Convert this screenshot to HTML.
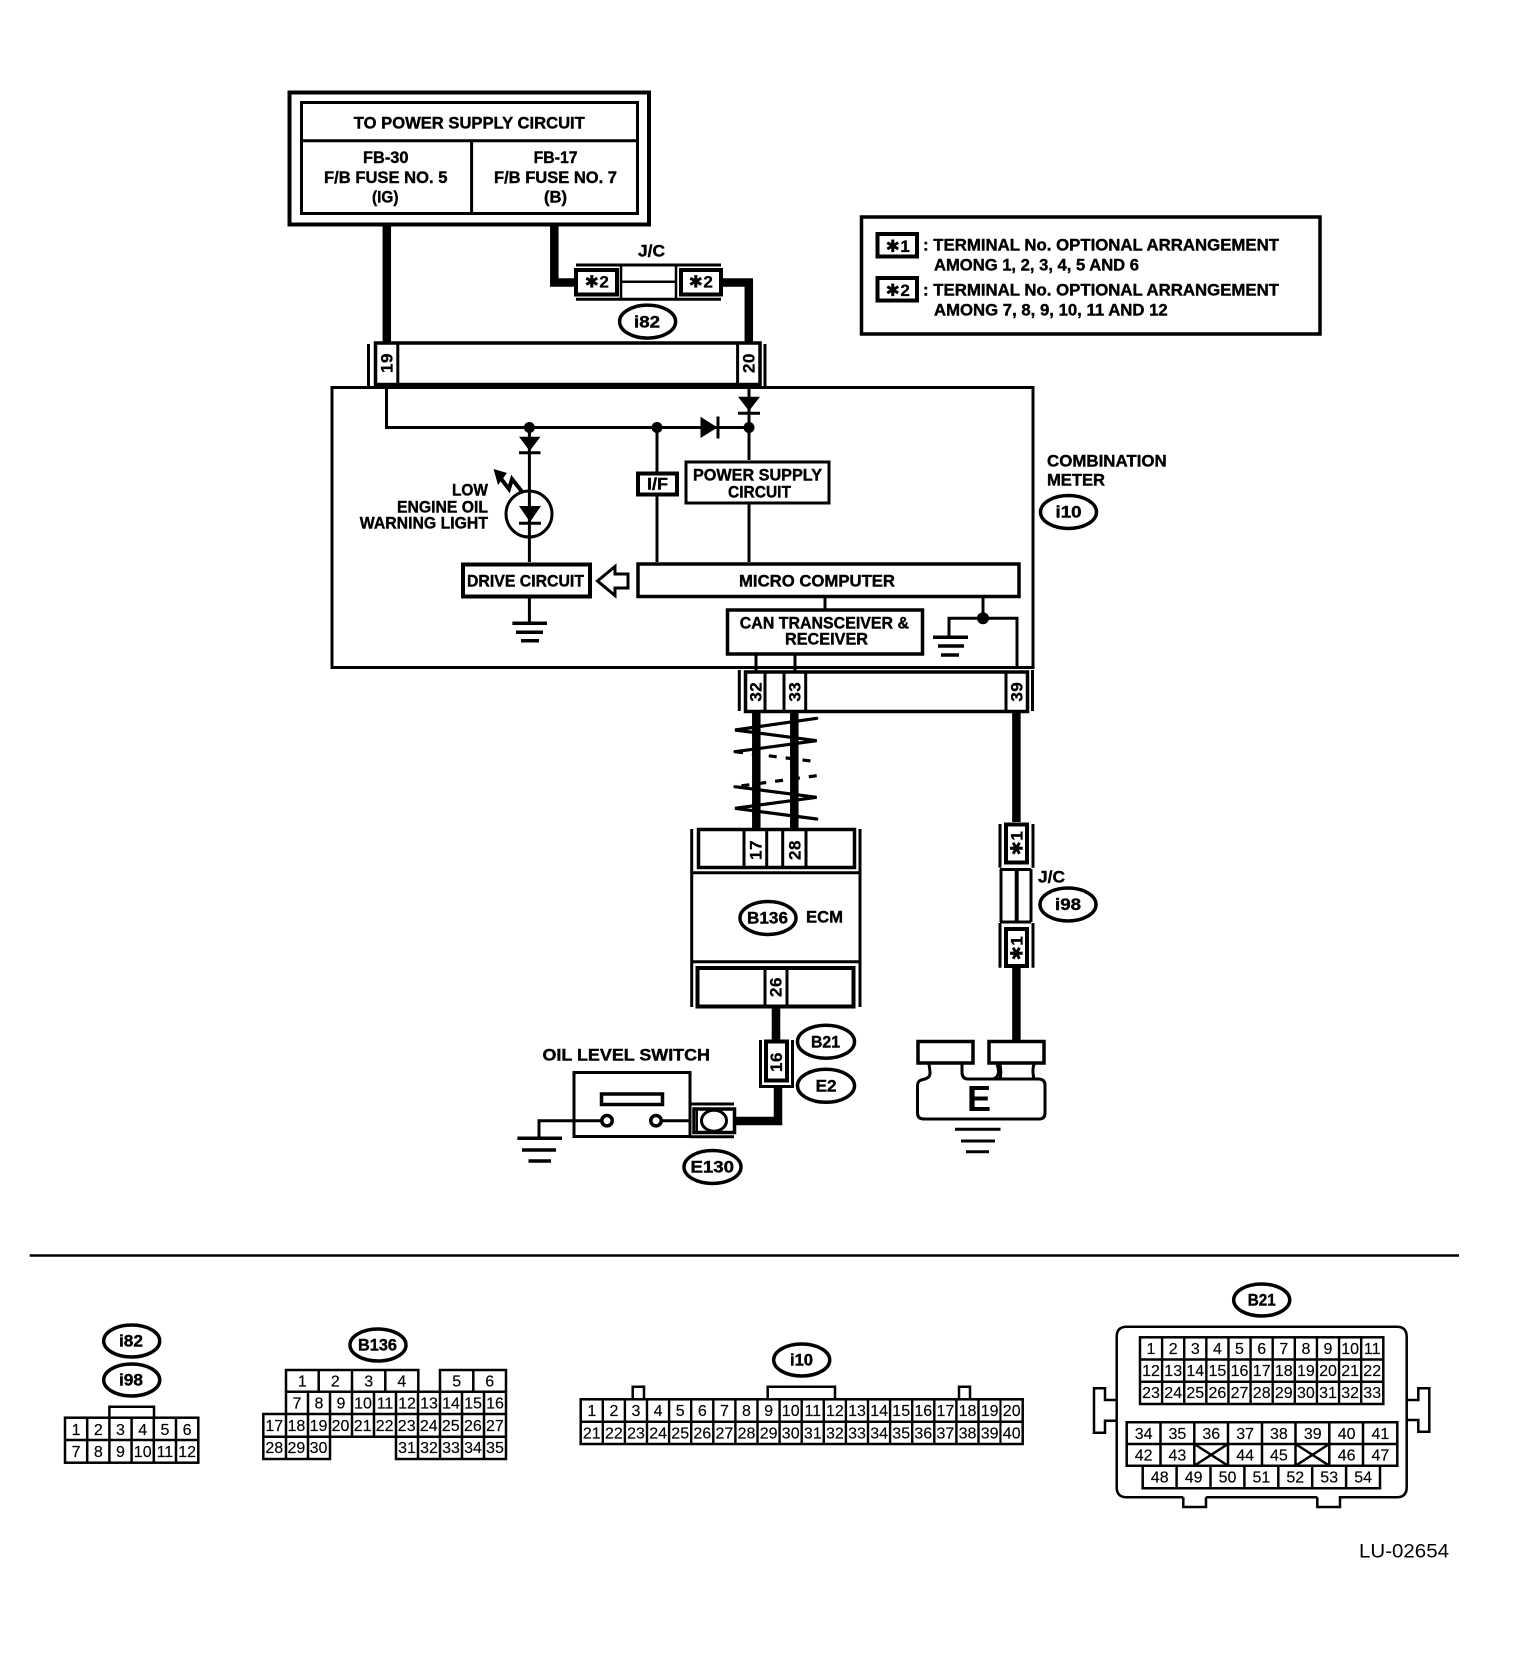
<!DOCTYPE html>
<html><head><meta charset="utf-8">
<style>
html,body{margin:0;padding:0;background:#fff}
svg{display:block}
text{font-family:"Liberation Sans",sans-serif;fill:#000;stroke:none}
.b{font-weight:bold;font-size:16.5px;stroke:#000;stroke-width:.4}
.r{font-size:16px;text-anchor:middle;stroke:#000;stroke-width:.15}
.n{font-weight:bold;font-size:17px;text-anchor:middle;stroke:#000;stroke-width:.3;letter-spacing:.5px}
.s{font-family:"DejaVu Sans","Liberation Sans",sans-serif}
</style></head><body>
<svg xmlns="http://www.w3.org/2000/svg" width="1520" height="1668" viewBox="0 0 1520 1668">
<rect width="1520" height="1668" fill="#fff"/>
<g fill="none" stroke="#000" stroke-width="3">
<!-- power box -->
<rect x="289.5" y="92.5" width="359.5" height="132" stroke-width="4"/>
<rect x="301.5" y="102.5" width="336" height="111"/>
<path d="M301 140.7H638M471.6 141V213"/>
<!-- wires top -->
<path d="M386.8 226V342M554.3 226V282.5H575M722 282.5H748.8V342" stroke-width="8.5"/>
<!-- i82 jc -->
<path d="M576 265H721M576 299.3H721" stroke-width="3"/>
<rect x="576" y="270" width="41" height="24.5" stroke-width="4"/>
<rect x="681" y="270" width="40" height="24.5" stroke-width="4"/>
<path d="M621 266V299M676 266V299M621 281.7H676" stroke-width="2.5"/>
<ellipse cx="647.6" cy="321.6" rx="28" ry="16.5" stroke-width="3.5"/>
<!-- connector 19-20 -->
<rect x="375.5" y="343" width="384.5" height="41.5" stroke-width="3.5"/>
<path d="M368.5 344V387M765 344V387M397.8 343V385M737.6 343V385"/>
<!-- meter box -->
<rect x="332" y="387.5" width="701" height="280"/>
<!-- inner wiring -->
<path d="M386.5 387V427.5H749M529.4 427.5V562M657 427.5V562M749 387V460M749 504V562M825 598V609M983 598V618.3M949 636V618.3H1017V668M529.4 598V623M756 655V672M795 655V672"/>
<!-- diodes -->
<g fill="#000" stroke="none">
<polygon points="519,436.7 540.5,436.7 529.7,451"/>
<polygon points="738,396.7 760,396.7 749,411"/>
<polygon points="700.5,416.7 717.5,427.5 700.5,438"/>
<polygon points="519,506 541,506 530,522"/>
<circle cx="529.4" cy="427.5" r="5.5"/><circle cx="657" cy="427.5" r="5.5"/><circle cx="749" cy="427.5" r="5.5"/><circle cx="983" cy="618.3" r="6"/>
<polygon points="493.5,469 507,473 498,485"/>
</g>
<path d="M519 452.7H540.5M738 413.3H760M718 416.5V438.5M519 523.3H541"/>
<circle cx="529" cy="514" r="23"/>
<path d="M499 476L509 489L512 479L523 493" stroke-width="4"/>
<!-- boxes -->
<rect x="638" y="473.5" width="39" height="21" fill="#fff" stroke-width="4"/>
<rect x="686" y="462" width="143" height="41" fill="#fff"/>
<rect x="463" y="564.5" width="127" height="32" fill="#fff" stroke-width="4"/>
<rect x="638" y="564" width="381" height="32.5" fill="#fff" stroke-width="3.5"/>
<rect x="727.5" y="610" width="195" height="44" fill="#fff" stroke-width="3.5"/>
<polygon points="597.5,581 615,566.5 615,574 628,574 628,588 615,588 615,595.5" fill="#fff" stroke-width="3"/>
<!-- grounds -->
<path d="M512.4 623.3H547M516 632.3H543M521 640.7H539M933 637.3H968M938 646H964M941 655H959" stroke-width="3.5"/>
<!-- connector 32-39 -->
<rect x="745.5" y="672" width="282" height="39.5" stroke-width="3.5"/>
<path d="M739.3 670V711M1032.5 670V711M765 672V711M784 672V711M805.7 672V711M1006 672V711"/>
<!-- wires to ecm -->
<path d="M756.3 712V828M794.3 712V828M1016.4 712V822M1016.4 968V1040M776 1008V1040M778 1086V1121H735" stroke-width="8.5"/>
<!-- twist -->
<path d="M816.7 718.3L735 730L816.7 740.7L735 751.7M735 786.7L816.7 797.3L735 808.3L816.7 819" stroke-width="3.2" stroke-linecap="round"/>
<path d="M735 751.7L816.7 761.7M816.7 775.7L735 786.7" stroke-width="3.2" stroke-dasharray="8 9"/>
<!-- ECM -->
<path d="M691.7 829V1007M860 829V1007M691.7 872.7H860M691.7 961.7H860"/>
<rect x="698.5" y="829.5" width="156" height="38" stroke-width="3.5"/>
<path d="M744 829V868M766.7 829V868M782.7 829V868M806 829V868M765 967V1007M787 967V1007"/>
<rect x="697.5" y="968" width="156" height="38.5" stroke-width="4"/>
<ellipse cx="768" cy="918" rx="28" ry="16.5" stroke-width="3.5"/>
<!-- i98 jc -->
<rect x="1006" y="824.5" width="21" height="38" stroke-width="4"/>
<rect x="1006" y="929" width="21" height="37" stroke-width="4"/>
<path d="M1000 824V867.7M1033 824V867.7M1000 923V967.7M1033 923V967.7M1000 869.5H1031M1000 922H1031M1001 869V922M1031 869V922"/>
<path d="M1016.7 869V922" stroke-width="4"/>
<ellipse cx="1068" cy="904.500" rx="28" ry="16.5" stroke-width="3.5"/>
<ellipse cx="1068.500" cy="512" rx="28" ry="16.5" stroke-width="3.5"/>
<!-- connector 16 -->
<rect x="766" y="1041.5" width="21" height="39" stroke-width="4"/>
<path d="M760.5 1040V1086.5H792.5V1040"/>
<ellipse cx="826" cy="1041.7" rx="28.5" ry="16.5" stroke-width="3.5"/>
<ellipse cx="826" cy="1085.8" rx="28.5" ry="16.5" stroke-width="3.5"/>
<!-- switch -->
<rect x="574" y="1072.5" width="116" height="64" />
<rect x="601.5" y="1094" width="61" height="10.5" stroke-width="3.5"/>
<circle cx="607" cy="1120.7" r="5.2" fill="#fff" stroke-width="3.5"/>
<circle cx="656" cy="1120.7" r="5.2" fill="#fff" stroke-width="3.5"/>
<path d="M539 1138V1120.7H601M662 1120.7H690"/>
<path d="M517.4 1138.3H562M522 1150H556M528.5 1161H551" stroke-width="3.5"/>
<path d="M690 1104H734M690 1136.7H734"/>
<rect x="694" y="1109" width="40.5" height="23.5" stroke-width="3.5"/>
<ellipse cx="714" cy="1120.7" rx="12.5" ry="10.5"/>
<path d="M697 1110V1132" stroke-width="2"/>
<ellipse cx="712.5" cy="1167" rx="28.5" ry="16.5" stroke-width="3.5"/>
<!-- ground E -->
<rect x="918" y="1041.5" width="55" height="21.5" stroke-width="3.5"/>
<rect x="989" y="1041.5" width="55" height="21.5" stroke-width="3.5"/>
<path d="M929 1064C930 1072 932 1077 925 1079C919 1080 917.5 1082 917.5 1086V1113Q917.5 1119 924 1119H1039Q1045 1119 1045 1113V1085Q1045 1079.5 1039 1079H968Q962 1079 962 1072V1064M997 1064C999 1070 1000 1077 993 1079M1000 1064C1001 1070 1001 1075 1000 1079M1034 1064C1032 1070 1033 1075 1034 1079" stroke-width="3"/>
<path d="M955 1129.3H1000.5M961 1141H995M966 1151.7H989" stroke-width="3"/>
<!-- legend -->
<rect x="861.5" y="217" width="458.5" height="117" stroke-width="3.5"/>
<rect x="877.5" y="234" width="39.5" height="22.5" stroke-width="4"/>
<rect x="877.5" y="278" width="39.5" height="22.5" stroke-width="4"/>
<!-- divider -->
<path d="M29.700 1255.500H1459" stroke-width="2.500"/>
<!-- bottom ovals -->
<ellipse cx="131.700" cy="1341" rx="28" ry="16" stroke-width="3.5"/>
<ellipse cx="131.700" cy="1380" rx="28" ry="16" stroke-width="3.5"/>
<ellipse cx="378" cy="1345" rx="28" ry="16" stroke-width="3.5"/>
<ellipse cx="801.700" cy="1360" rx="28" ry="16" stroke-width="3.5"/>
<ellipse cx="1261.700" cy="1300" rx="28" ry="16" stroke-width="3.5"/>
<!-- grids -->
<g stroke-width="2.500">
<rect x="65" y="1417.700" width="133.300" height="45"/>
<path d="M65 1440H198M87.200 1418V1462M109.400 1418V1462M131.600 1418V1462M153.800 1418V1462M176 1418V1462M109.400 1417.700V1406.700H154V1417.700"/>
<path d="M418.300 1391.700V1370H286V1414H263.300V1459H330V1436.700H396V1459H506V1370H440V1391.700M286 1391.700H506M263.300 1414H506M263.300 1436.700H506M318.700 1370V1391.700M352 1370V1391.700M385.300 1370V1391.700M473.300 1370V1391.700M308 1391.700V1436.700M330 1391.700V1436.700M352 1391.700V1436.700M374 1391.700V1436.700M396 1391.700V1436.700M418 1391.700V1436.700M440 1391.700V1436.700M462 1391.700V1436.700M484 1391.700V1459M286 1391.700V1459M308 1436.700V1459M418 1436.700V1459M440 1436.700V1459M462 1436.700V1459"/>
<rect x="580.700" y="1399.300" width="442" height="44.700"/>
<path d="M580.700 1421.700H1022.700M632.700 1399.300V1386.700H644V1399.300M767.700 1399.300V1386.700H835V1399.300M959 1399.300V1386.700H970V1399.300"/>
<path d="M601.600 1421.700H1001.500" stroke-width="44.700" stroke-dasharray="2.400 19.700"/>
<rect x="1140" y="1337.300" width="243.300" height="66.700"/>
<path d="M1140 1359.500H1383M1140 1381.700H1383"/>
<path d="M1160.900 1370.600H1362.500" stroke-width="66.700" stroke-dasharray="2.400 19.720"/>
<path d="M1126.700 1422.300H1397.300V1465.700H1380V1488.300H1142.700V1465.700H1126.700ZM1126.700 1444H1397.300M1126.700 1465.700H1397.300M1160.500 1422.300V1465.700M1194.300 1422.300V1465.700M1228 1422.300V1465.700M1262 1422.300V1465.700M1295.500 1422.300V1465.700M1329.300 1422.300V1465.700M1363 1422.300V1465.700M1176.600 1465.700V1488.300M1210.500 1465.700V1488.300M1244.400 1465.700V1488.300M1278.300 1465.700V1488.300M1312.200 1465.700V1488.300M1346.100 1465.700V1488.300M1194.300 1444L1228 1465.700M1228 1444L1194.300 1465.700M1295.500 1444L1329.300 1465.700M1329.300 1444L1295.500 1465.700"/>
<path d="M1183.300 1497.300V1507H1206V1497.300M1317.300 1497.300V1507H1340V1497.300H1396.700Q1406.700 1497.300 1406.700 1487.300V1336.700Q1406.700 1326.700 1396.700 1326.700H1126.700Q1116.700 1326.700 1116.700 1336.700V1487.300Q1116.700 1497.300 1126.700 1497.300H1183.300M1206 1497.300H1317.300M1116.700 1400H1105V1388.300H1094V1432.700H1105V1420.700H1116.700M1406.700 1400H1418.300V1388.300H1429.300V1431.700H1418.300V1420H1406.700"/>
</g>
</g>
<!-- power box text -->
<text class="b" x="353.800" y="128.500" textLength="231" lengthAdjust="spacingAndGlyphs">TO POWER SUPPLY CIRCUIT</text>
<text class="b" x="363" y="162.800" textLength="45.500" lengthAdjust="spacingAndGlyphs">FB-30</text>
<text class="b" x="324" y="182.800" textLength="123.500" lengthAdjust="spacingAndGlyphs">F/B FUSE NO. 5</text>
<text class="b" x="372" y="202.300" textLength="26.500" lengthAdjust="spacingAndGlyphs">(IG)</text>
<text class="b" x="533.600" y="162.800" textLength="44" lengthAdjust="spacingAndGlyphs">FB-17</text>
<text class="b" x="494" y="182.800" textLength="123" lengthAdjust="spacingAndGlyphs">F/B FUSE NO. 7</text>
<text class="b" x="544" y="202.300" textLength="23" lengthAdjust="spacingAndGlyphs">(B)</text>
<text class="b" x="638" y="256.500" textLength="27" lengthAdjust="spacingAndGlyphs">J/C</text>
<text class="n" x="597" y="287.500"><tspan class="s">✱</tspan>2</text>
<text class="n" x="701" y="287.500"><tspan class="s">✱</tspan>2</text>
<text class="b" x="634" y="327.300" textLength="26" lengthAdjust="spacingAndGlyphs">i82</text>
<text class="n" transform="translate(392.500 363) rotate(-90)">19</text>
<text class="n" transform="translate(754.500 363) rotate(-90)">20</text>
<!-- legend -->
<text class="n" x="898" y="252"><tspan class="s">✱</tspan>1</text>
<text class="n" x="898" y="296"><tspan class="s">✱</tspan>2</text>
<text class="b" x="923" y="250.700" textLength="356" lengthAdjust="spacingAndGlyphs">: TERMINAL No. OPTIONAL ARRANGEMENT</text>
<text class="b" x="934" y="270.400" textLength="205" lengthAdjust="spacingAndGlyphs">AMONG 1, 2, 3, 4, 5 AND 6</text>
<text class="b" x="923" y="295.400" textLength="356" lengthAdjust="spacingAndGlyphs">: TERMINAL No. OPTIONAL ARRANGEMENT</text>
<text class="b" x="934" y="315.400" textLength="233.700" lengthAdjust="spacingAndGlyphs">AMONG 7, 8, 9, 10, 11 AND 12</text>
<!-- meter -->
<text class="b" x="452" y="495.700" textLength="36" lengthAdjust="spacingAndGlyphs">LOW</text>
<text class="b" x="397" y="512.400" textLength="91" lengthAdjust="spacingAndGlyphs">ENGINE OIL</text>
<text class="b" x="359.800" y="528.700" textLength="128.200" lengthAdjust="spacingAndGlyphs">WARNING LIGHT</text>
<text class="b" x="647" y="489.700" textLength="21" lengthAdjust="spacingAndGlyphs">I/F</text>
<text class="b" x="693" y="480.700" textLength="129" lengthAdjust="spacingAndGlyphs">POWER SUPPLY</text>
<text class="b" x="728" y="497.400" textLength="63" lengthAdjust="spacingAndGlyphs">CIRCUIT</text>
<text class="b" x="467" y="586.400" textLength="117" lengthAdjust="spacingAndGlyphs">DRIVE CIRCUIT</text>
<text class="b" x="739" y="586.700" textLength="156" lengthAdjust="spacingAndGlyphs">MICRO COMPUTER</text>
<text class="b" x="739.800" y="628.400" textLength="169.200" lengthAdjust="spacingAndGlyphs">CAN TRANSCEIVER &amp;</text>
<text class="b" x="785" y="644.400" textLength="83" lengthAdjust="spacingAndGlyphs">RECEIVER</text>
<text class="b" x="1047" y="466.400" textLength="119.700" lengthAdjust="spacingAndGlyphs">COMBINATION</text>
<text class="b" x="1047" y="485.700" textLength="58" lengthAdjust="spacingAndGlyphs">METER</text>
<text class="b" x="1055.500" y="517.700" textLength="26" lengthAdjust="spacingAndGlyphs">i10</text>
<text class="n" transform="translate(761.500 691.700) rotate(-90)">32</text>
<text class="n" transform="translate(800.500 691.700) rotate(-90)">33</text>
<text class="n" transform="translate(1022.500 691.700) rotate(-90)">39</text>
<!-- ecm -->
<text class="n" transform="translate(761.500 850) rotate(-90)">17</text>
<text class="n" transform="translate(800.500 850) rotate(-90)">28</text>
<text class="n" transform="translate(781.500 987) rotate(-90)">26</text>
<text class="b" x="747" y="923.700" textLength="41" lengthAdjust="spacingAndGlyphs">B136</text>
<text class="b" x="806" y="922.400" textLength="37" lengthAdjust="spacingAndGlyphs">ECM</text>
<!-- i98 -->
<text class="n" transform="translate(1022.500 843) rotate(-90)"><tspan class="s">✱</tspan>1</text>
<text class="n" transform="translate(1022.500 948) rotate(-90)"><tspan class="s">✱</tspan>1</text>
<text class="b" x="1038" y="882.400" textLength="27" lengthAdjust="spacingAndGlyphs">J/C</text>
<text class="b" x="1055" y="910.200" textLength="26" lengthAdjust="spacingAndGlyphs">i98</text>
<!-- lower -->
<text class="n" transform="translate(782 1062) rotate(-90)">16</text>
<text class="b" x="811" y="1047.400" textLength="29" lengthAdjust="spacingAndGlyphs">B21</text>
<text class="b" x="815.600" y="1091.500" textLength="21" lengthAdjust="spacingAndGlyphs">E2</text>
<text class="b" x="690.500" y="1172.700" textLength="43.500" lengthAdjust="spacingAndGlyphs">E130</text>
<text class="b" x="542.500" y="1060.700" textLength="167.500" lengthAdjust="spacingAndGlyphs">OIL LEVEL SWITCH</text>
<text x="979" y="1111" text-anchor="middle" style="font-weight:bold;font-size:36px">E</text>
<text x="1359" y="1557.500" style="font-size:19px" textLength="90" lengthAdjust="spacingAndGlyphs">LU-02654</text>
<!-- bottom oval labels -->
<text class="b" x="119" y="1346.700" textLength="24" lengthAdjust="spacingAndGlyphs">i82</text>
<text class="b" x="119" y="1385.700" textLength="24" lengthAdjust="spacingAndGlyphs">i98</text>
<text class="b" x="358" y="1350.700" textLength="39" lengthAdjust="spacingAndGlyphs">B136</text>
<text class="b" x="790" y="1365.700" textLength="23" lengthAdjust="spacingAndGlyphs">i10</text>
<text class="b" x="1247.700" y="1305.700" textLength="28" lengthAdjust="spacingAndGlyphs">B21</text>
<!-- i82 grid -->
<g class="gt">
<text class="r" x="76.100" y="1435">1</text><text class="r" x="98.300" y="1435">2</text><text class="r" x="120.500" y="1435">3</text><text class="r" x="142.700" y="1435">4</text><text class="r" x="164.900" y="1435">5</text><text class="r" x="187.100" y="1435">6</text>
<text class="r" x="76.100" y="1457">7</text><text class="r" x="98.300" y="1457">8</text><text class="r" x="120.500" y="1457">9</text><text class="r" x="142.700" y="1457">10</text><text class="r" x="164.900" y="1457">11</text><text class="r" x="187.100" y="1457">12</text>
<!-- B136 grid -->
<text class="r" x="302.300" y="1386.500">1</text><text class="r" x="335.300" y="1386.500">2</text><text class="r" x="368.700" y="1386.500">3</text><text class="r" x="401.800" y="1386.500">4</text><text class="r" x="456.700" y="1386.500">5</text><text class="r" x="489.700" y="1386.500">6</text>
<text class="r" x="297" y="1408.500">7</text><text class="r" x="319" y="1408.500">8</text><text class="r" x="341" y="1408.500">9</text><text class="r" x="363" y="1408.500">10</text><text class="r" x="385" y="1408.500">11</text><text class="r" x="407" y="1408.500">12</text><text class="r" x="429" y="1408.500">13</text><text class="r" x="451" y="1408.500">14</text><text class="r" x="473" y="1408.500">15</text><text class="r" x="495" y="1408.500">16</text>
<text class="r" x="274.300" y="1431">17</text><text class="r" x="296.400" y="1431">18</text><text class="r" x="318.500" y="1431">19</text><text class="r" x="340.500" y="1431">20</text><text class="r" x="362.600" y="1431">21</text><text class="r" x="384.600" y="1431">22</text><text class="r" x="406.700" y="1431">23</text><text class="r" x="428.800" y="1431">24</text><text class="r" x="450.800" y="1431">25</text><text class="r" x="472.900" y="1431">26</text><text class="r" x="494.900" y="1431">27</text>
<text class="r" x="274.300" y="1453">28</text><text class="r" x="296.400" y="1453">29</text><text class="r" x="318.500" y="1453">30</text><text class="r" x="407" y="1453">31</text><text class="r" x="429" y="1453">32</text><text class="r" x="451" y="1453">33</text><text class="r" x="473" y="1453">34</text><text class="r" x="495" y="1453">35</text>
<!-- i10 grid -->
<text class="r" x="591.800" y="1416">1</text><text class="r" x="613.900" y="1416">2</text><text class="r" x="636" y="1416">3</text><text class="r" x="658.100" y="1416">4</text><text class="r" x="680.200" y="1416">5</text><text class="r" x="702.300" y="1416">6</text><text class="r" x="724.400" y="1416">7</text><text class="r" x="746.500" y="1416">8</text><text class="r" x="768.600" y="1416">9</text><text class="r" x="790.700" y="1416">10</text><text class="r" x="812.800" y="1416">11</text><text class="r" x="834.900" y="1416">12</text><text class="r" x="857" y="1416">13</text><text class="r" x="879.100" y="1416">14</text><text class="r" x="901.200" y="1416">15</text><text class="r" x="923.300" y="1416">16</text><text class="r" x="945.400" y="1416">17</text><text class="r" x="967.500" y="1416">18</text><text class="r" x="989.600" y="1416">19</text><text class="r" x="1011.700" y="1416">20</text>
<text class="r" x="591.800" y="1438.500">21</text><text class="r" x="613.900" y="1438.500">22</text><text class="r" x="636" y="1438.500">23</text><text class="r" x="658.100" y="1438.500">24</text><text class="r" x="680.200" y="1438.500">25</text><text class="r" x="702.300" y="1438.500">26</text><text class="r" x="724.400" y="1438.500">27</text><text class="r" x="746.500" y="1438.500">28</text><text class="r" x="768.600" y="1438.500">29</text><text class="r" x="790.700" y="1438.500">30</text><text class="r" x="812.800" y="1438.500">31</text><text class="r" x="834.900" y="1438.500">32</text><text class="r" x="857" y="1438.500">33</text><text class="r" x="879.100" y="1438.500">34</text><text class="r" x="901.200" y="1438.500">35</text><text class="r" x="923.300" y="1438.500">36</text><text class="r" x="945.400" y="1438.500">37</text><text class="r" x="967.500" y="1438.500">38</text><text class="r" x="989.600" y="1438.500">39</text><text class="r" x="1011.700" y="1438.500">40</text>
<!-- B21 grid -->
<text class="r" x="1151" y="1354">1</text><text class="r" x="1173.200" y="1354">2</text><text class="r" x="1195.300" y="1354">3</text><text class="r" x="1217.400" y="1354">4</text><text class="r" x="1239.500" y="1354">5</text><text class="r" x="1261.700" y="1354">6</text><text class="r" x="1283.800" y="1354">7</text><text class="r" x="1305.900" y="1354">8</text><text class="r" x="1328" y="1354">9</text><text class="r" x="1350.100" y="1354">10</text><text class="r" x="1372.200" y="1354">11</text>
<text class="r" x="1151" y="1376">12</text><text class="r" x="1173.200" y="1376">13</text><text class="r" x="1195.300" y="1376">14</text><text class="r" x="1217.400" y="1376">15</text><text class="r" x="1239.500" y="1376">16</text><text class="r" x="1261.700" y="1376">17</text><text class="r" x="1283.800" y="1376">18</text><text class="r" x="1305.900" y="1376">19</text><text class="r" x="1328" y="1376">20</text><text class="r" x="1350.100" y="1376">21</text><text class="r" x="1372.200" y="1376">22</text>
<text class="r" x="1151" y="1398">23</text><text class="r" x="1173.200" y="1398">24</text><text class="r" x="1195.300" y="1398">25</text><text class="r" x="1217.400" y="1398">26</text><text class="r" x="1239.500" y="1398">27</text><text class="r" x="1261.700" y="1398">28</text><text class="r" x="1283.800" y="1398">29</text><text class="r" x="1305.900" y="1398">30</text><text class="r" x="1328" y="1398">31</text><text class="r" x="1350.100" y="1398">32</text><text class="r" x="1372.200" y="1398">33</text>
<text class="r" x="1143.600" y="1439">34</text><text class="r" x="1177.400" y="1439">35</text><text class="r" x="1211.300" y="1439">36</text><text class="r" x="1245.100" y="1439">37</text><text class="r" x="1278.900" y="1439">38</text><text class="r" x="1312.800" y="1439">39</text><text class="r" x="1346.600" y="1439">40</text><text class="r" x="1380.400" y="1439">41</text>
<text class="r" x="1143.600" y="1460.500">42</text><text class="r" x="1177.400" y="1460.500">43</text><text class="r" x="1245.100" y="1460.500">44</text><text class="r" x="1278.900" y="1460.500">45</text><text class="r" x="1346.600" y="1460.500">46</text><text class="r" x="1380.400" y="1460.500">47</text>
<text class="r" x="1159.700" y="1482.500">48</text><text class="r" x="1193.600" y="1482.500">49</text><text class="r" x="1227.500" y="1482.500">50</text><text class="r" x="1261.400" y="1482.500">51</text><text class="r" x="1295.300" y="1482.500">52</text><text class="r" x="1329.200" y="1482.500">53</text><text class="r" x="1363.100" y="1482.500">54</text>
</g>
</svg>
</body></html>
